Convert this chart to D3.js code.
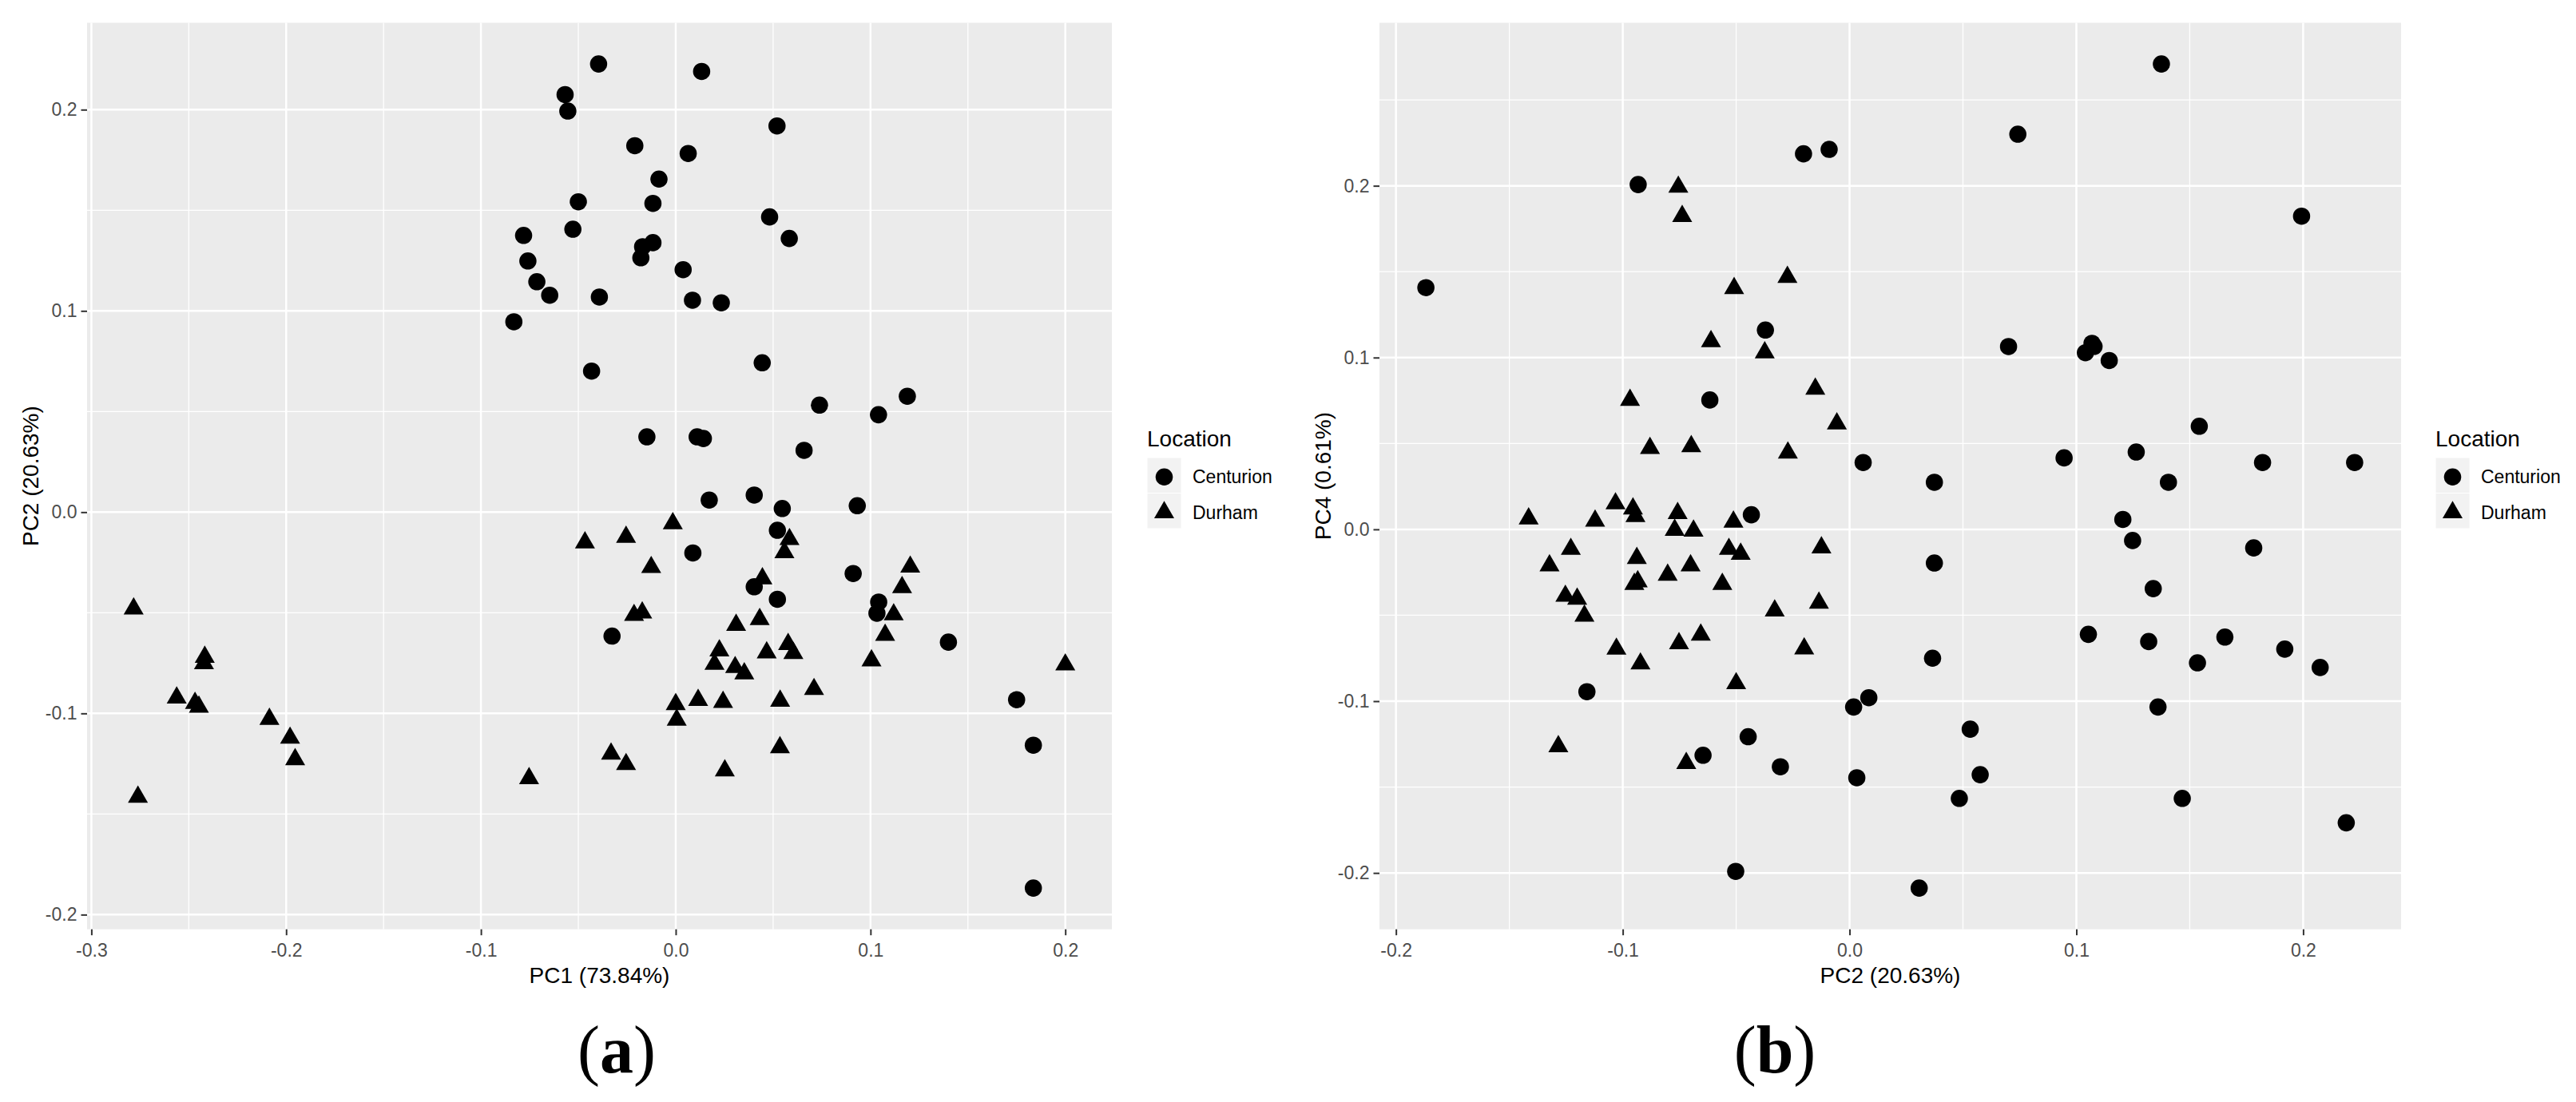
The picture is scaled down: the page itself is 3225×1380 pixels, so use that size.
<!DOCTYPE html>
<html>
<head>
<meta charset="utf-8">
<script src="https://cdn.jsdelivr.net/npm/d3@7"></script>
<style>
  body { margin: 0; background: #ffffff; }
  svg { display: block; }
</style>
</head>
<body>
<svg id="chart" width="3225" height="1380"></svg>
<script>
// ---------------- DATA ----------------
const locations = ["Centurion", "Durham"];

// Centurion observations (PC1, PC2, PC4 of each sample)
const centurionPC1 = [0.1836, 0.1836, 0.175, 0.14, -0.0327, 0.1033, 0.1042, 0.0522, 0.0403, 0.0911,
  0.0088, 0.0522, 0.0547, 0.0932, 0.0172, 0.0403, 0.0659, 0.0142, 0.011, -0.0148,
  0.1041, 0.0738, 0.1189, -0.0432, 0.0444, -0.0831, 0.0234, 0.0086, -0.0392, -0.0647,
  -0.0713, 0.0038, -0.0759, -0.0179, -0.017, -0.0117, 0.0583, -0.0781, -0.0528, 0.0482,
  -0.0117, -0.05, -0.0086, 0.0064, -0.021, 0.052, -0.0554, -0.0568, 0.0133, -0.0396];
const centurionPC2 = [-0.1868, -0.1158, -0.0932, -0.0646, -0.0616, -0.0502, -0.0447, -0.0433, -0.0371, -0.0305,
  -0.0203, -0.0090, 0.0018, 0.0032, 0.0060, 0.0085, 0.0307, 0.0366, 0.0374, 0.0374,
  0.0484, 0.0532, 0.0576, 0.0701, 0.0742, 0.0946, 0.1040, 0.1053, 0.1069, 0.1078,
  0.1145, 0.1205, 0.1248, 0.1264, 0.1319, 0.1339, 0.1360, 0.1375, 0.1406, 0.1467,
  0.1534, 0.1542, 0.1655, 0.1782, 0.1821, 0.1919, 0.1993, 0.2075, 0.2190, 0.2227];
const centurionPC4 = [0.1407, -0.0945, 0.2007, -0.1315, 0.0753, -0.1991, -0.1207, 0.0085, 0.116, -0.1382,
  0.2186, 0.2212, -0.1034, -0.1446, 0.0389, -0.098, -0.2088, -0.075, -0.0196, 0.0274,
  -0.1566, -0.1163, -0.1428, 0.1064, 0.23, 0.0416, 0.1028, -0.0611, 0.1083, 0.1065,
  0.0983, 0.0058, -0.0065, 0.045, -0.0653, -0.0345, -0.1034, 0.2709, 0.0274, -0.1566,
  -0.0777, 0.06, -0.0627, -0.0108, 0.0389, -0.0697, 0.1823, -0.0804, -0.1708, 0.0389];

// Durham observations
const durhamPC1 = [-0.2761, -0.0753, 0.0252, -0.0255, -0.1954, -0.0332, 0.0535, -0.198, 0.0005, -0.2086,
  -0.2448, 0.0, -0.2468, 0.0243, 0.0536, 0.0115, -0.2562, 0.071, 0.0352, 0.0305,
  0.2, 0.0199, -0.2422, 0.1005, -0.2418, 0.0604, 0.0467, 0.0224, 0.0577, 0.1075,
  0.031, 0.0431, -0.0214, 0.1119, -0.0172, -0.2783, 0.1162, 0.0445, -0.0126, 0.1204,
  0.0558, -0.0466, 0.0584, -0.0255, -0.0015];
const durhamPC2 = [-0.1415, -0.1323, -0.1284, -0.1253, -0.1229, -0.1201, -0.1169, -0.1122, -0.1032, -0.1028,
  -0.0968, -0.0955, -0.0949, -0.0944, -0.0938, -0.0934, -0.0922, -0.0880, -0.0802, -0.0771,
  -0.0758, -0.0755, -0.0752, -0.0738, -0.0720, -0.0701, -0.0698, -0.0688, -0.0656, -0.0611,
  -0.0561, -0.0532, -0.0512, -0.0509, -0.0500, -0.0480, -0.0374, -0.0330, -0.0274, -0.0272,
  -0.0200, -0.0151, -0.0135, -0.0124, -0.0056];
const durhamPC4 = [0.0062, -0.0211, -0.1264, -0.0388, -0.0115, -0.0405, -0.0504, 0.005, 0.015, -0.0696,
  0.0753, 0.012, -0.0319, 0.0076, -0.0168, -0.0304, -0.0782, 0.0473, -0.0265, -0.0004,
  0.0094, 0.1993, -0.0664, 0.1823, -0.1361, -0.0211, 0.0483, -0.0009, -0.0614, 0.1094,
  -0.0319, -0.0115, 0.0044, 0.1403, -0.0897, -0.0143, 0.1029, -0.0473, 0.1468, 0.0446,
  -0.0694, 0.0818, -0.0428, -0.0106, 0.0615];

// Tick values
const ticksPC1 = [-0.3, -0.2, -0.1, 0.0, 0.1, 0.2];
const ticksPC2 = [-0.2, -0.1, 0.0, 0.1, 0.2];
const ticksPC4 = [-0.2, -0.1, 0.0, 0.1, 0.2];

// Axis titles / labels
const titlePC1 = "PC1 (73.84%)";
const titlePC2 = "PC2 (20.63%)";
const titlePC4 = "PC4 (0.61%)";
const legendTitle = "Location";
const panelTags = ["a", "b"];

// ---------------- BUILD ROWS ----------------
const rows = [];
centurionPC1.forEach((v, i) => rows.push({ loc: locations[0], pc1: v, pc2: centurionPC2[i], pc4: centurionPC4[i] }));
durhamPC1.forEach((v, i) => rows.push({ loc: locations[1], pc1: v, pc2: durhamPC2[i], pc4: durhamPC4[i] }));

// ---------------- HELPERS ----------------
const FONT = "'Liberation Sans', Arial, sans-serif";
const fmt = d3.formatLocale({ decimal: ".", thousands: ",", grouping: [3], currency: ["", ""], minus: "-" }).format(".1f");

function expandDomain(vals) {
  const [a, b] = d3.extent(vals);
  const p = (b - a) * 0.05;
  return [a - p, b + p];
}
function minorTicks(ticks, dom) {
  const step = ticks[1] - ticks[0];
  const out = [];
  for (let i = -1; i < ticks.length; i++) {
    const v = ticks[0] + step * (i + 0.5);
    if (v >= dom[0] && v <= dom[1]) out.push(v);
  }
  return out;
}
const shapeOf = d3.scaleOrdinal().domain(locations).range([d3.symbolCircle, d3.symbolTriangle]);
const sizeOf = d3.scaleOrdinal().domain(locations).range([365, 272]);
const symbolPath = loc => d3.symbol().type(shapeOf(loc)).size(sizeOf(loc))();

const svg = d3.select("#chart");

function drawPanel(cfg) {
  const g = svg.append("g");
  const xDom = expandDomain(rows.map(d => d[cfg.xKey]));
  const yDom = expandDomain(rows.map(d => d[cfg.yKey]));
  const x = d3.scaleLinear().domain(xDom).range([cfg.left, cfg.right]);
  const y = d3.scaleLinear().domain(yDom).range([cfg.bottom, cfg.top]);

  g.append("rect")
    .attr("x", cfg.left).attr("y", cfg.top)
    .attr("width", cfg.right - cfg.left).attr("height", cfg.bottom - cfg.top)
    .attr("fill", "#EBEBEB");

  // minor grid
  g.append("g").selectAll("line").data(minorTicks(cfg.xTicks, xDom)).join("line")
    .attr("x1", d => x(d)).attr("x2", d => x(d)).attr("y1", cfg.top).attr("y2", cfg.bottom)
    .attr("stroke", "#ffffff").attr("stroke-width", 1.3);
  g.append("g").selectAll("line").data(minorTicks(cfg.yTicks, yDom)).join("line")
    .attr("y1", d => y(d)).attr("y2", d => y(d)).attr("x1", cfg.left).attr("x2", cfg.right)
    .attr("stroke", "#ffffff").attr("stroke-width", 1.3);
  // major grid
  g.append("g").selectAll("line").data(cfg.xTicks).join("line")
    .attr("x1", d => x(d)).attr("x2", d => x(d)).attr("y1", cfg.top).attr("y2", cfg.bottom)
    .attr("stroke", "#ffffff").attr("stroke-width", 2.5);
  g.append("g").selectAll("line").data(cfg.yTicks).join("line")
    .attr("y1", d => y(d)).attr("y2", d => y(d)).attr("x1", cfg.left).attr("x2", cfg.right)
    .attr("stroke", "#ffffff").attr("stroke-width", 2.5);

  // points
  g.append("g").selectAll("path").data(rows).join("path")
    .attr("transform", d => `translate(${x(d[cfg.xKey])},${y(d[cfg.yKey])})`)
    .attr("d", d => symbolPath(d.loc))
    .attr("fill", "#000000");

  // axes
  const xAxis = g.append("g").attr("transform", `translate(0,${cfg.bottom})`)
    .call(d3.axisBottom(x).tickValues(cfg.xTicks).tickFormat(fmt).tickSize(7.5).tickPadding(10));
  const yAxis = g.append("g").attr("transform", `translate(${cfg.left},0)`)
    .call(d3.axisLeft(y).tickValues(cfg.yTicks).tickFormat(fmt).tickSize(7.5).tickPadding(5));
  [xAxis, yAxis].forEach(a => {
    a.select(".domain").remove();
    a.selectAll(".tick line").attr("stroke", "#333333").attr("stroke-width", 2);
    a.selectAll(".tick text").attr("fill", "#4D4D4D").attr("font-size", 23).attr("font-family", FONT);
  });

  // axis titles
  g.append("text")
    .attr("x", (cfg.left + cfg.right) / 2).attr("y", 1231)
    .attr("text-anchor", "middle").attr("font-family", FONT).attr("font-size", 28).attr("fill", "#000")
    .text(cfg.xTitle);
  g.append("text")
    .attr("transform", `translate(${cfg.left - 71},${(cfg.top + cfg.bottom) / 2}) rotate(-90)`)
    .attr("dy", "0.35em")
    .attr("text-anchor", "middle").attr("font-family", FONT).attr("font-size", 28).attr("fill", "#000")
    .text(cfg.yTitle);

  // legend
  const lg = g.append("g").attr("transform", `translate(${cfg.legendX},0)`);
  lg.append("text").attr("x", 0).attr("y", 559)
    .attr("font-family", FONT).attr("font-size", 28).attr("fill", "#000").text(legendTitle);
  const keyH = 44.5, keyW = 43, keyTop = 573;
  locations.forEach((loc, i) => {
    const ky = keyTop + i * keyH;
    lg.append("rect").attr("x", 0).attr("y", ky).attr("width", keyW).attr("height", keyH)
      .attr("fill", "#F2F2F2").attr("stroke", "#ffffff").attr("stroke-width", 1);
    lg.append("path").attr("transform", `translate(${keyW / 2},${ky + keyH / 2 + 2})`)
      .attr("d", symbolPath(loc)).attr("fill", "#000");
    lg.append("text").attr("x", keyW + 14).attr("y", ky + keyH / 2 + 2).attr("dy", "0.35em")
      .attr("font-family", FONT).attr("font-size", 23).attr("fill", "#000").text(loc);
  });

  // panel tag
  const t = g.append("text").attr("x", cfg.tagX).attr("y", 1343).attr("text-anchor", "middle")
    .attr("font-family", "'Liberation Serif', 'Times New Roman', serif").attr("font-size", 84).attr("fill", "#000");
  t.append("tspan").text("(");
  t.append("tspan").attr("font-weight", "bold").text(cfg.tag);
  t.append("tspan").text(")");
}

drawPanel({
  xKey: "pc1", yKey: "pc2", xTicks: ticksPC1, yTicks: ticksPC2,
  left: 109, right: 1392, top: 28.5, bottom: 1163.7,
  xTitle: titlePC1, yTitle: titlePC2, legendX: 1436, tag: panelTags[0], tagX: 772
});
drawPanel({
  xKey: "pc2", yKey: "pc4", xTicks: ticksPC2, yTicks: ticksPC4,
  left: 1727, right: 3006, top: 28.5, bottom: 1163.7,
  xTitle: titlePC2, yTitle: titlePC4, legendX: 3049, tag: panelTags[1], tagX: 2222
});
</script>
</body>
</html>
